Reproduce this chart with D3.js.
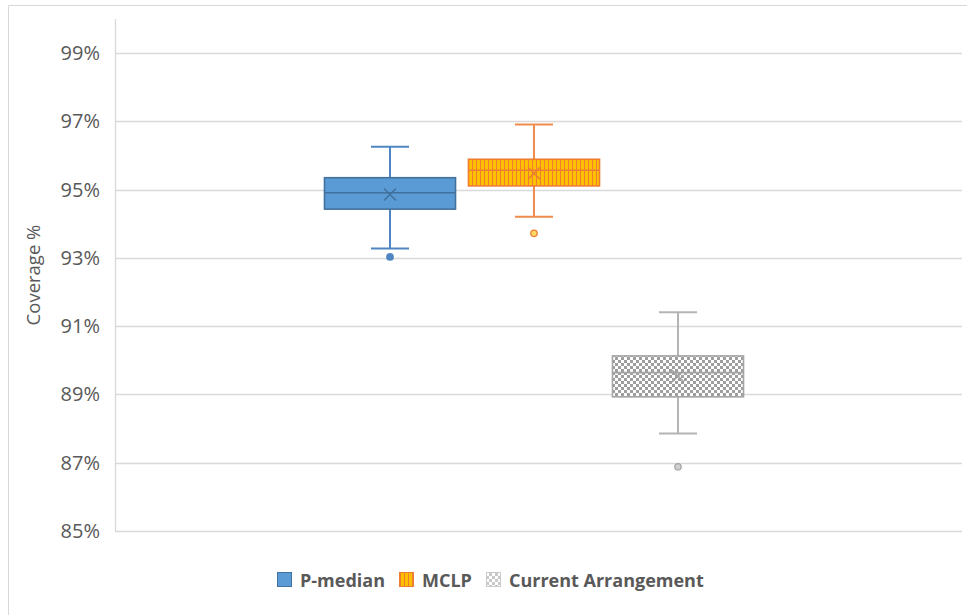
<!DOCTYPE html>
<html><head><meta charset="utf-8">
<script src="https://cdn.jsdelivr.net/npm/d3@7"></script>
<style>
html,body{margin:0;padding:0;background:#fff;}
svg{display:block;font-family:"Open Sans","Noto Sans",sans-serif;}
</style></head>
<body>
<svg id="chart" width="967" height="615"></svg>
<script>
// ---- data ----
const series = ["P-median", "MCLP", "Current Arrangement"];
const whiskerMin = [93.28, 94.21, 87.86];
const q1 = [94.43, 95.11, 88.93];
const median = [94.91, 95.57, 89.64];
const q3 = [95.35, 95.89, 90.13];
const whiskerMax = [96.26, 96.91, 91.41];
const mean = [94.86, 95.48, 89.54];
const outliers = [[93.03], [93.72], [86.88]];
const yTicks = [85, 87, 89, 91, 93, 95, 97, 99];
const yTitle = "Coverage %";

// ---- styles ----
const fills = ["#5B9BD5", "url(#stripes)", "url(#checker)"];
const boxStroke = ["#41719C", "#ED7D31", "#A5A5A5"];
const whiskerStroke = ["#4E86C2", "#F08C4E", "#B4B4B4"];
const meanStroke = ["#41719C", "#ED7D31", "#A0A0A0"];
const outFill = ["#4E86C2", "#FFD966", "#D0D0D0"];
const outStroke = ["#4E86C2", "#ED7D31", "#A5A5A5"];
const legendFill = ["#5B9BD5", "url(#stripesL)", "url(#checkerL)"];
const legendStroke = ["#41719C", "#ED7D31", "#C9C9C9"];

const svg = d3.select("#chart");
const W = 967, H = 615;
const plot = {left: 115, right: 962, top: 19, bottom: 531};

const defs = svg.append("defs");
function stripes(id) {
  const p = defs.append("pattern").attr("id", id).attr("patternUnits", "userSpaceOnUse")
    .attr("width", 4).attr("height", 4);
  p.append("rect").attr("width", 4).attr("height", 4).attr("fill", "#FFC000");
  p.append("rect").attr("width", 1).attr("height", 4).attr("fill", "#ED7D31");
}
function checker(id, c) {
  const p = defs.append("pattern").attr("id", id).attr("patternUnits", "userSpaceOnUse")
    .attr("width", 6).attr("height", 6);
  p.append("rect").attr("width", 6).attr("height", 6).attr("fill", "#fff");
  p.append("rect").attr("width", 3).attr("height", 3).attr("fill", c);
  p.append("rect").attr("x", 3).attr("y", 3).attr("width", 3).attr("height", 3).attr("fill", c);
}
stripes("stripes"); stripes("stripesL");
checker("checker", "#9E9E9E"); checker("checkerL", "#C9C9C9");

// frame
svg.append("path").attr("d", `M8.5,${H} V5.5 H${W}`).attr("fill", "none")
  .attr("stroke", "#D9D9D9").attr("stroke-width", 1);

const y = d3.scaleLinear().domain([85, 100]).range([plot.bottom, plot.top]);
const x = d3.scaleBand().domain(series).range([318, 750]).paddingInner(0.09).paddingOuter(0.045);
const bw = x.bandwidth();
const cx = s => x(s) + bw / 2;

// gridlines
svg.append("g").selectAll("line").data(yTicks).join("line")
  .attr("x1", plot.left).attr("x2", plot.right)
  .attr("y1", d => Math.round(y(d)) + 0.5).attr("y2", d => Math.round(y(d)) + 0.5)
  .attr("stroke", "#D9D9D9").attr("stroke-width", 1.3);
// left axis line
svg.append("line").attr("x1", plot.left + 0.5).attr("x2", plot.left + 0.5)
  .attr("y1", plot.top).attr("y2", plot.bottom + 0.5).attr("stroke", "#D9D9D9").attr("stroke-width", 1.3);

// y axis labels
const yAxis = d3.axisLeft(y).tickValues(yTicks).tickFormat(d => d + "%").tickSize(0).tickPadding(15);
const ga = svg.append("g").attr("transform", `translate(${plot.left},0)`).call(yAxis);
ga.select(".domain").remove();
ga.selectAll("text").attr("fill", "#595959").style("font-size", "20px")
  .style("font-family", "'Open Sans','Noto Sans',sans-serif");

// y title
svg.append("text").attr("transform", `translate(40,275) rotate(-90)`)
  .attr("text-anchor", "middle").attr("fill", "#595959").style("font-size", "18.5px").text(yTitle);

// boxes
const g = svg.append("g");
series.forEach((s, i) => {
  const c = cx(s);
  const capW = 38;
  const gs = g.append("g");
  gs.append("line").attr("x1", c).attr("x2", c).attr("y1", y(whiskerMax[i])).attr("y2", y(q3[i]))
    .attr("stroke", whiskerStroke[i]).attr("stroke-width", 2);
  gs.append("line").attr("x1", c).attr("x2", c).attr("y1", y(q1[i])).attr("y2", y(whiskerMin[i]))
    .attr("stroke", whiskerStroke[i]).attr("stroke-width", 2);
  gs.append("line").attr("x1", c - capW / 2).attr("x2", c + capW / 2).attr("y1", y(whiskerMax[i])).attr("y2", y(whiskerMax[i]))
    .attr("stroke", whiskerStroke[i]).attr("stroke-width", 2);
  gs.append("line").attr("x1", c - capW / 2).attr("x2", c + capW / 2).attr("y1", y(whiskerMin[i])).attr("y2", y(whiskerMin[i]))
    .attr("stroke", whiskerStroke[i]).attr("stroke-width", 2);
  gs.append("rect").attr("x", x(s)).attr("width", bw)
    .attr("y", y(q3[i])).attr("height", y(q1[i]) - y(q3[i]))
    .attr("fill", fills[i]).attr("stroke", boxStroke[i]).attr("stroke-width", 1.6);
  gs.append("line").attr("x1", x(s)).attr("x2", x(s) + bw).attr("y1", y(median[i])).attr("y2", y(median[i]))
    .attr("stroke", boxStroke[i]).attr("stroke-width", 1.6);
  const my = y(mean[i]), r = 6;
  gs.append("path").attr("d", `M${c - r},${my - r}L${c + r},${my + r}M${c - r},${my + r}L${c + r},${my - r}`)
    .attr("stroke", meanStroke[i]).attr("stroke-width", 1.6).attr("fill", "none");
  gs.selectAll("circle").data(outliers[i]).join("circle")
    .attr("cx", c).attr("cy", d => y(d)).attr("r", 3.2)
    .attr("fill", outFill[i]).attr("stroke", outStroke[i]).attr("stroke-width", 1.3);
});

// legend
const lg = svg.append("g");
const legendY = 580;
let lx = 277;
series.forEach((s, i) => {
  lg.append("rect").attr("x", lx + 0.5).attr("y", legendY - 7.5).attr("width", 14).attr("height", 14)
    .attr("fill", legendFill[i]).attr("stroke", legendStroke[i]).attr("stroke-width", 1);
  const t = lg.append("text").attr("x", lx + 23).attr("y", legendY + 6.5)
    .attr("fill", "#595959").style("font-size", "18px").style("font-weight", "bold").text(s);
  const w = t.node().getComputedTextLength();
  lx = lx + 23 + w + 14;
});
</script>
</body></html>
